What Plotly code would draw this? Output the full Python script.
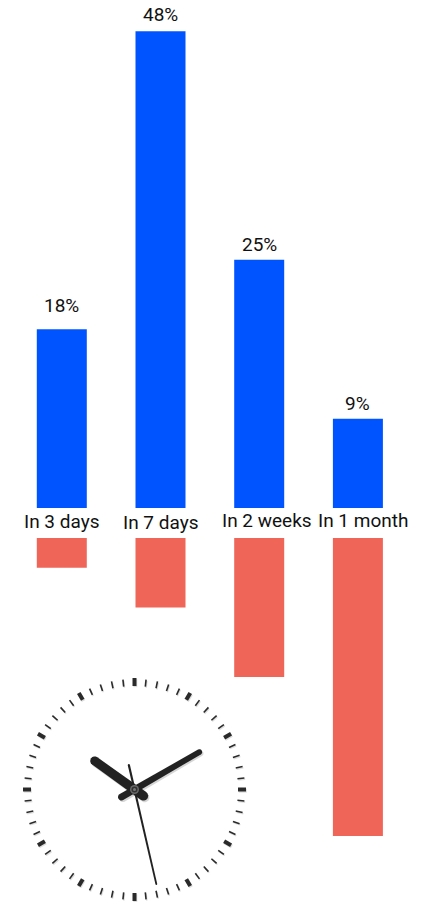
import math
import numpy as np
import plotly.graph_objects as go

# Survey results by time horizon
categories = ["In 3 days", "In 7 days", "In 2 weeks", "In 1 month"]
share_pct = [18, 48, 25, 9]
days_ahead = [3, 7, 14, 30]
share_labels = ["18%", "48%", "25%", "9%"]

WIDTH, HEIGHT = 428, 902
BLUE = "#0054FF"
RED = "#EF6558"
INK = "#111111"
FONT = "Roboto"

# Vertical layout in pixels from the top of the page
TOP_BASE = 508
BOTTOM_BASE = 538
PX_PER_UNIT = 9.93
# Horizontal layout: first bar centre, spacing between bars, bar width
FIRST_CENTRE, STEP, BAR_W = 61.8, 98.7, 50
x_range = [-FIRST_CENTRE / STEP, (WIDTH - FIRST_CENTRE) / STEP]

# Fine offsets for the text labels, in pixels
value_lift = [24, 17, 15, 15]
category_drop = [-13, -14, -12, -12]
category_shift = [0, 0, 8, 5]


def px(x):
    return x / WIDTH


def py(y):
    return 1 - y / HEIGHT


fig = go.Figure()
fig.add_bar(
    x=categories, y=share_pct, marker=dict(color=BLUE, line_width=0),
    width=BAR_W / STEP, xaxis="x", yaxis="y", showlegend=False,
)
fig.add_bar(
    x=categories, y=days_ahead, marker=dict(color=RED, line_width=0),
    width=BAR_W / STEP, xaxis="x2", yaxis="y2", showlegend=False,
)

annotations = [
    dict(
        x=c, y=v, xref="x", yref="y", text=t, showarrow=False,
        yshift=lift, yanchor="middle",
        font=dict(family=FONT, size=19, color=INK),
    )
    for c, v, t, lift in zip(categories, share_pct, share_labels, value_lift)
]
annotations += [
    dict(
        x=c, y=0, xref="x", yref="y", text=c, showarrow=False,
        xshift=sx, yshift=sy, yanchor="middle",
        font=dict(family=FONT, size=19, color=INK),
    )
    for c, sx, sy in zip(categories, category_shift, category_drop)
]

# Wall clock built from vector shapes
CX, CY = 134.5, 789.5


def tick_shape(i, r_in, r_out, width, color, dx=0.0, dy=0.0):
    a = math.radians(i * 6)
    sx, sy = math.sin(a), -math.cos(a)
    return dict(
        type="line", xref="paper", yref="paper",
        x0=px(CX + dx + r_in * sx), y0=py(CY + dy + r_in * sy),
        x1=px(CX + dx + r_out * sx), y1=py(CY + dy + r_out * sy),
        line=dict(color=color, width=width),
    )


def hand_path(angle_deg, length, tail, w_tip, w_tail, dx=0.0, dy=0.0):
    """Tapered hand with rounded ends, as a closed SVG path in paper units."""
    a = math.radians(angle_deg)
    ux, uy = math.sin(a), -math.cos(a)
    nx, ny = -uy, ux
    pts = []
    for t in np.linspace(-math.pi / 2, math.pi / 2, 9):
        pts.append((
            length * ux + w_tip / 2 * (math.cos(t) * ux - math.sin(t) * nx),
            length * uy + w_tip / 2 * (math.cos(t) * uy - math.sin(t) * ny),
        ))
    for t in np.linspace(math.pi / 2, 3 * math.pi / 2, 9):
        pts.append((
            -tail * ux + w_tail / 2 * (math.cos(t) * ux - math.sin(t) * nx),
            -tail * uy + w_tail / 2 * (math.cos(t) * uy - math.sin(t) * ny),
        ))
    coords = [f"{px(CX + dx + p[0]):.5f},{py(CY + dy + p[1]):.5f}" for p in pts]
    return "M" + " L".join(coords) + " Z"


def hand_shape(*args, color="#222222", **kw):
    return dict(
        type="path", xref="paper", yref="paper", path=hand_path(*args, **kw),
        fillcolor=color, line_width=0,
    )


shapes = []
for i in range(60):
    major = i % 5 == 0
    r_out = 111.5 if major else 110.5
    w = 4 if major else 1.6
    shapes.append(tick_shape(i, 103.5, r_out, w, "rgba(0,0,0,0.13)", 0.8, 1.2))
for i in range(60):
    major = i % 5 == 0
    r_out = 111.5 if major else 110.5
    w = 4 if major else 1.6
    shapes.append(tick_shape(i, 103.5, r_out, w, "#2A2A2A"))

# Clock hands: angle clockwise from twelve, reach, tail, tip width, tail width
hour_hand = (305.7, 49, 11, 9, 9.5)
minute_hand = (60, 75, 15, 5.5, 7)
second_hand = (167, 97, 25, 1.8, 2.2)

shadow = "rgba(0,0,0,0.16)"
for hand in (hour_hand, minute_hand):
    shapes.append(hand_shape(*hand, color=shadow, dx=1.2, dy=1.6))
for hand in (hour_hand, minute_hand, second_hand):
    shapes.append(hand_shape(*hand))

for r, color in ((4.5, "#6A6A6A"), (3, "#333333"), (1.5, "#777777")):
    shapes.append(dict(
        type="circle", xref="paper", yref="paper",
        x0=px(CX - r), x1=px(CX + r), y0=py(CY + r), y1=py(CY - r),
        fillcolor=color, line_width=0,
    ))

fig.update_layout(
    width=WIDTH, height=HEIGHT, autosize=False,
    margin=dict(l=0, r=0, t=0, b=0),
    paper_bgcolor="white", plot_bgcolor="rgba(0,0,0,0)",
    showlegend=False, annotations=annotations, shapes=shapes,
    xaxis=dict(
        type="category", categoryorder="array", categoryarray=categories,
        range=x_range, showgrid=False, zeroline=False, showline=False,
        ticks="", showticklabels=False, anchor="y", fixedrange=True,
    ),
    xaxis2=dict(
        type="category", categoryorder="array", categoryarray=categories,
        range=x_range, visible=False, anchor="y2", fixedrange=True,
    ),
    yaxis=dict(
        domain=[py(TOP_BASE), 1], range=[0, TOP_BASE / PX_PER_UNIT],
        visible=False, fixedrange=True,
    ),
    yaxis2=dict(
        domain=[0, py(BOTTOM_BASE)],
        range=[(HEIGHT - BOTTOM_BASE) / PX_PER_UNIT, 0],
        visible=False, fixedrange=True,
    ),
)

fig.write_html("out.html", config=dict(displayModeBar=False))
